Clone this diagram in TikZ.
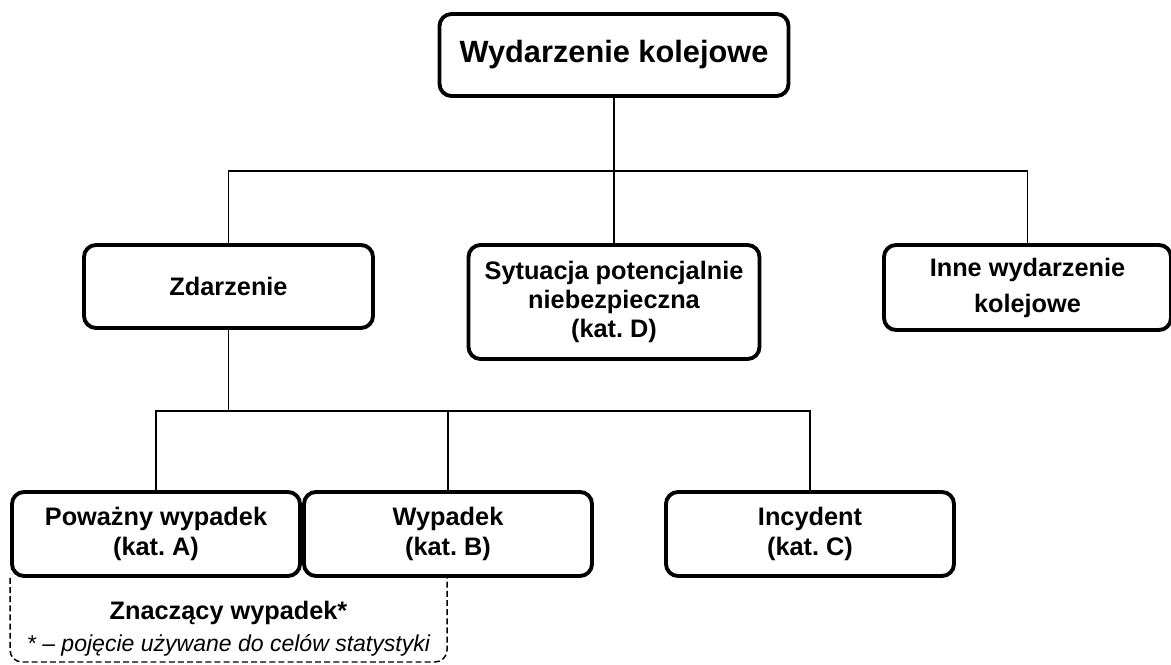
\documentclass[tikz,border=0pt]{standalone}
\usepackage{fontspec}
\setmainfont{Liberation Sans}
\frenchspacing

\begin{document}
\begin{tikzpicture}[
every node/.style = {rectangle, draw, rounded corners=0.24cm, line width=2.2pt,
                     align=center, fill=white, inner sep=0pt,
                     font=\bfseries\fontsize{14.4}{16.5}\selectfont},
link/.style = {line width=1.1pt},
dashframe/.style = {line width=0.85pt, dash pattern=on 3.4pt off 1.8pt, rounded corners=0.24cm},
plain/.style = {draw=none, fill=none, rounded corners=0pt}]
\useasboundingbox (0,0) rectangle (23.42,13.28);
% top level
\node (wydarzenie) at (12.28,12.18) [minimum width=6.98cm, minimum height=1.64cm,
      font=\bfseries\fontsize{17.5}{21}\selectfont] {Wydarzenie kolejowe};
% second level
\node (zdarzenie) at (4.57,7.55) [minimum width=5.78cm, minimum height=1.66cm] {Zdarzenie};
\node (sytuacja) at (12.28,7.24) [minimum width=5.82cm, minimum height=2.28cm] {Sytuacja potencjalnie \\ niebezpieczna \\ (kat. D)};
\node (inne) at (20.55,7.53) [minimum width=5.74cm, minimum height=1.70cm,
      font=\bfseries\fontsize{14.4}{20.5}\selectfont] {Inne wydarzenie \\ kolejowe};
% third level
\node (powazny) at (3.12,2.6) [minimum width=5.76cm, minimum height=1.68cm,
      font=\bfseries\fontsize{14.4}{17}\selectfont] {Poważny wypadek \\ (kat. A)};
\node (wypadek) at (8.96,2.6) [minimum width=5.76cm, minimum height=1.68cm,
      font=\bfseries\fontsize{14.4}{17}\selectfont] {Wypadek \\ (kat. B)};
\node (incydent) at (16.2,2.6) [minimum width=5.76cm, minimum height=1.68cm,
      font=\bfseries\fontsize{14.4}{17}\selectfont] {Incydent \\ (kat. C)};
% dashed group under A and B
\coordinate (groupL) at (0.2,0.04);
\coordinate (groupR) at (8.94,0.04);
\draw[dashframe] (powazny.south west) -- (groupL) -- (groupR) -- (groupR |- powazny.south);
\node (znaczacy) at (4.57,1.02) [plain] {Znaczący wypadek*};
\node (przypis) at (4.57,0.38) [plain, font=\itshape\fontsize{13.1}{15}\selectfont] {* – pojęcie używane do celów statystyki};
% connectors
\coordinate (upper) at (12.28,9.86);
\coordinate (lower) at (4.57,5.06);
\draw[link] (wydarzenie.south) -- (upper);
\draw[link] (zdarzenie.north) |- (upper) -| (inne.north);
\draw[link] (sytuacja.north) -- (upper);
\draw[link] (zdarzenie.south) -- (lower);
\draw[link] (powazny.north) |- (lower) -| (incydent.north);
\draw[link] (wypadek.north) -- (wypadek.north |- lower);
\end{tikzpicture}
\end{document}
